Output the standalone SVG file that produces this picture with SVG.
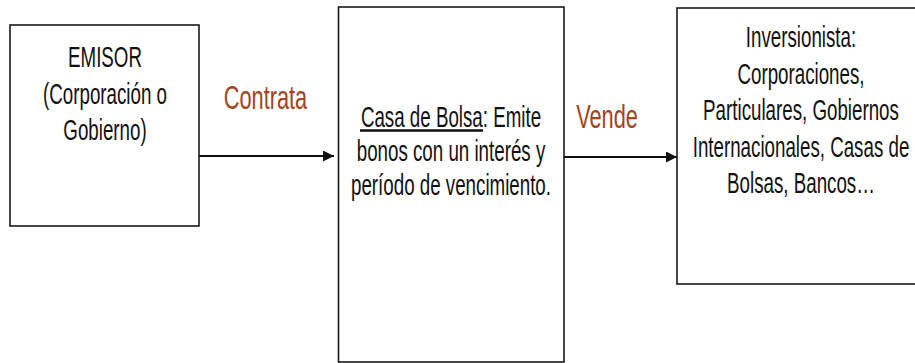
<svg xmlns="http://www.w3.org/2000/svg" width="915" height="363" viewBox="0 0 915 363">
<defs>
<style>
.box{fill:#fff;stroke:#1a1a1a;stroke-width:1.6}
.t{font-family:"Liberation Sans",Arial,sans-serif;font-size:30px;fill:#111;text-anchor:middle}
.lbl{font-family:"Liberation Sans",Arial,sans-serif;font-size:34px;fill:#A3441C;text-anchor:middle}
.conn{stroke:#111;stroke-width:2;fill:none}
.ul{stroke:#111;stroke-width:2.6}
</style>
<marker id="ah" markerWidth="11" markerHeight="11" refX="11" refY="5.5" orient="auto" markerUnits="userSpaceOnUse">
<path d="M0,0 L11,5.5 L0,11 Z" fill="#111"/>
</marker>
</defs>
<rect width="915" height="363" fill="#fff"/>
<g id="emisor">
<rect class="box" x="10" y="25" width="189" height="201"/>
<g transform="translate(105,0) scale(0.625,1)">
<text class="t" x="0" y="67">EMISOR</text>
<text class="t" x="0" y="104">(Corporación o</text>
<text class="t" x="0" y="140">Gobierno)</text>
</g>
</g>
<g id="casa">
<rect class="box" x="338.5" y="7" width="225.5" height="355"/>
<g transform="translate(451,0) scale(0.625,1)">
<text class="t" x="0" y="127">Casa de Bolsa: Emite</text>
<text class="t" x="0" y="161">bonos con un interés y</text>
<text class="t" x="0" y="195">período de vencimiento.</text>
</g>
<line class="ul" x1="360" y1="130.5" x2="483" y2="130.5"/>
</g>
<g id="inversionista">
<rect class="box" x="677" y="8" width="250" height="276"/>
<g transform="translate(801,0) scale(0.625,1)">
<text class="t" x="0" y="47">Inversionista:</text>
<text class="t" x="0" y="84">Corporaciones,</text>
<text class="t" x="0" y="120">Particulares, Gobiernos</text>
<text class="t" x="0" y="157">Internacionales, Casas de</text>
<text class="t" x="0" y="193">Bolsas, Bancos…</text>
</g>
</g>
<g id="connectors">
<line class="conn" x1="199" y1="156" x2="334" y2="156" marker-end="url(#ah)"/>
<line class="conn" x1="564" y1="157" x2="677" y2="157" marker-end="url(#ah)"/>
<g transform="translate(265.5,0) scale(0.64,1)">
<text class="lbl" x="0" y="109">Contrata</text>
</g>
<g transform="translate(607,0) scale(0.64,1)">
<text class="lbl" x="0" y="128">Vende</text>
</g>
</g>
</svg>
